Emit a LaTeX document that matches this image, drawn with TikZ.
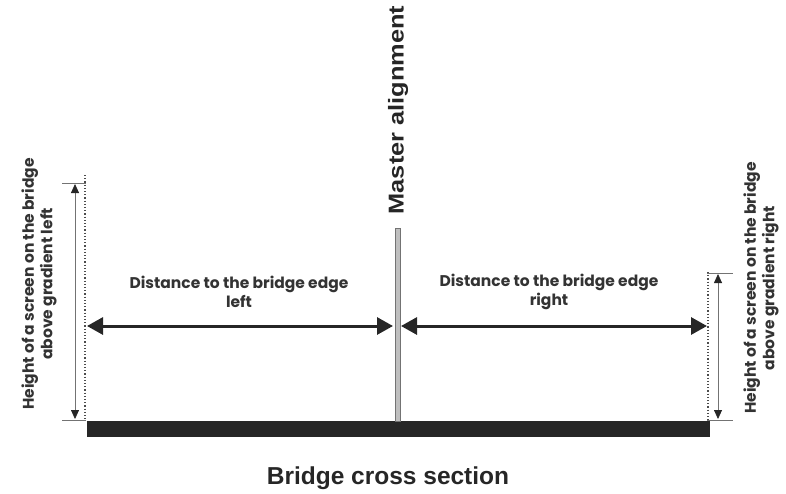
\documentclass[tikz,border=0pt]{standalone}
\usepackage{fontspec}
\setmainfont{Poppins}
\newfontfamily\arialb[FakeStretch=1.18]{Liberation Sans}
\newfontfamily\arialc{Liberation Sans}
\usetikzlibrary{arrows.meta}
\begin{document}
\begin{tikzpicture}[x=1pt,y=-1pt,
  lbl/.style={font=\fontsize{15.5}{18.5}\selectfont\bfseries, text=black!80, align=center, inner sep=0pt},
  title/.style={font=\arialc\bfseries\fontsize{24.5}{27}\selectfont, text=black!85, inner sep=0pt},
  mtitle/.style={font=\arialb\bfseries\fontsize{21.5}{24}\selectfont, text=black!85, inner sep=0pt},
  bigarrow/.style={line width=3pt, draw=black!85, {Triangle[length=16pt,width=17pt]}-{Triangle[length=16pt,width=17pt]}},
  htarrow/.style={line width=0.8pt, draw=black!55, {Triangle[length=9pt,width=8pt,color=black!85]}-{Triangle[length=9pt,width=8pt,color=black!85]}},
  tick/.style={line width=0.8pt, draw=black!55},
  dotline/.style={line width=1.2pt, draw=black!70, dotted}]
\useasboundingbox (0,0) rectangle (786,493);
% deck
\fill[black!85] (87,421) rectangle (710,437);
% master alignment line
\draw[fill=black!25, draw=black!55, line width=0.8pt] (395,228) rectangle (400,421);
\node[mtitle, rotate=90] (ma) at (398,110) {Master alignment};
% horizontal distance arrows
\coordinate (lL) at (87,326);
\coordinate (lR) at (393,326);
\coordinate (rL) at (401,326);
\coordinate (rR) at (707,326);
\draw[bigarrow] (lL) -- (lR);
\draw[bigarrow] (rL) -- (rR);
\node[lbl] (dl) at (239,292) {Distance to the bridge edge\\left};
\node[lbl] (dr) at (549,292) {Distance to the bridge edge\\right};
% left dotted and height
\coordinate (ldt) at (85,175);
\coordinate (ldb) at (85,421);
\draw[dotline] (ldt) -- (ldb);
\coordinate (lt1) at (62,183); \coordinate (lt2) at (86,183);
\coordinate (lb1) at (62,420); \coordinate (lb2) at (86,420);
\draw[tick] (lt1) -- (lt2);
\draw[tick] (lb1) -- (lb2);
\coordinate (lat) at (75,184); \coordinate (lab) at (75,419);
\draw[htarrow] (lat) -- (lab);
\node[lbl, rotate=90] (hl) at (39,284) {Height of a screen on the bridge\\above gradient left};
% right dotted and height
\coordinate (rdt) at (708,272);
\coordinate (rdb) at (708,421);
\draw[dotline] (rdt) -- (rdb);
\coordinate (rt1) at (707,273); \coordinate (rt2) at (733,273);
\coordinate (rb1) at (707,420); \coordinate (rb2) at (733,420);
\draw[tick] (rt1) -- (rt2);
\draw[tick] (rb1) -- (rb2);
\coordinate (rat) at (718,274); \coordinate (rab) at (718,419);
\draw[htarrow] (rat) -- (rab);
\node[lbl, rotate=90] (hr) at (761,288) {Height of a screen on the bridge\\above gradient right};
% caption
\node[title] (bc) at (388,478) {Bridge cross section};
\end{tikzpicture}
\end{document}
